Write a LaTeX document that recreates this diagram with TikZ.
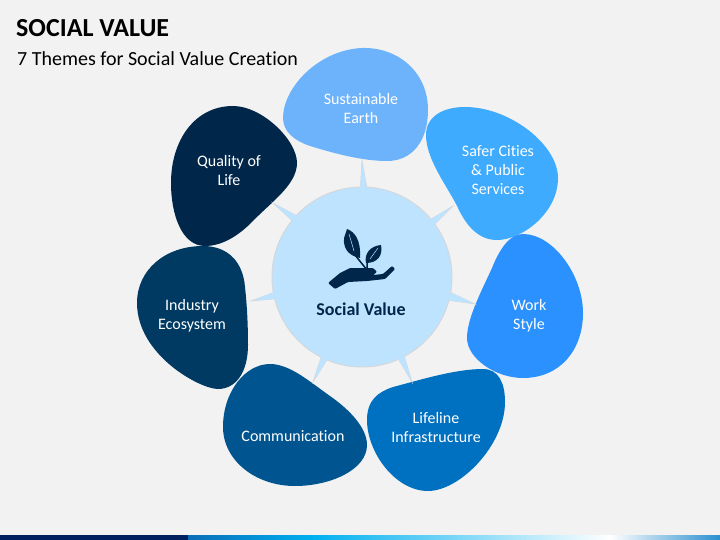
\documentclass[tikz,border=0pt]{standalone}
\usepackage{fontspec}
\setmainfont[RawFeature=-liga]{Carlito}
\usetikzlibrary{calc}
\definecolor{pagegray}{HTML}{F2F2F2}
\definecolor{hubblue}{HTML}{BDE3FF}
\definecolor{rimgray}{HTML}{D4D8DB}
\definecolor{inkblue}{HTML}{002649}
\definecolor{earthblue}{HTML}{6DB3FB}
\definecolor{citiesblue}{HTML}{3FABFF}
\definecolor{workblue}{HTML}{2B91FF}
\definecolor{lifelineblue}{HTML}{0070C0}
\definecolor{commblue}{HTML}{005590}
\definecolor{industryblue}{HTML}{003A63}
\definecolor{barnavy}{HTML}{002060}
\definecolor{barblue}{HTML}{0A6CB8}
\definecolor{barcyan}{HTML}{00B0F0}
\definecolor{barend}{HTML}{2A8FD0}
\tikzset{
  theme/.style={text=white,align=center,font=\fontsize{16}{19}\selectfont},
  hub/.style={circle,minimum size=180pt,inner sep=0pt,fill=hubblue,draw=rimgray,line width=1pt},
}
\begin{document}
\begin{tikzpicture}[x=1pt,y=-1pt]
\useasboundingbox (0,0) rectangle (720,540);
\fill[pagegray] (0,0) rectangle (720,540);
% bar at the bottom
\fill[barnavy] (0,535) rectangle (188,540);
\shade[left color=barblue,right color=barcyan] (188,535) rectangle (312,540);
\shade[left color=barcyan,right color=white] (312,535) rectangle (610,540);
\shade[left color=white,right color=barend] (610,535) rectangle (720,540);
% title
\node[anchor=base west,inner sep=0pt,font=\bfseries\fontsize{26}{28}\selectfont] (title) at (16,37) {SOCIAL VALUE};
\node[anchor=base west,inner sep=0pt,font=\fontsize{20}{24}\selectfont] (subtitle) at (17,66) {7 Themes for Social Value Creation};
% petals
\fill[earthblue] (283,118) .. controls (283,88) and (318,50) .. (362,48) .. controls (398,47) and (428,72) .. (428,110) .. controls (428,140) and (413,161) .. (387,161) .. controls (360,161) and (330,152) .. (310,146) .. controls (295,141) and (283,132) .. (283,118) -- cycle;
\fill[citiesblue] (426,135) .. controls (426,117) and (442,107) .. (465,107) .. controls (510,107) and (558,145) .. (558,178) .. controls (558,213) and (522,240) .. (497,240) .. controls (478,240) and (466,225) .. (458,208) .. controls (448,187) and (426,160) .. (426,135) -- cycle;
\fill[workblue] (467,338) .. controls (467,318) and (482,290) .. (492,268) .. controls (500,248) and (510,234) .. (523,234) .. controls (553,234) and (583,275) .. (583,313) .. controls (583,350) and (560,378) .. (523,378) .. controls (495,378) and (467,358) .. (467,338) -- cycle;
\fill[lifelineblue] (367,420) .. controls (367,400) and (378,392) .. (393,387) .. controls (420,380) and (455,369) .. (483,369) .. controls (498,369) and (505,382) .. (505,402) .. controls (505,445) and (460,491) .. (428,491) .. controls (395,491) and (367,452) .. (367,420) -- cycle;
\fill[commblue] (223,427) .. controls (223,392) and (245,364) .. (270,364) .. controls (290,364) and (310,382) .. (330,396) .. controls (350,410) and (367,428) .. (367,445) .. controls (367,470) and (330,486) .. (295,486) .. controls (255,486) and (223,460) .. (223,427) -- cycle;
\fill[industryblue] (137,303) .. controls (137,270) and (165,246) .. (203,246) .. controls (228,246) and (243,262) .. (245,287) .. controls (247,305) and (248,325) .. (248,345) .. controls (248,372) and (236,389) .. (218,389) .. controls (200,389) and (137,355) .. (137,303) -- cycle;
\fill[inkblue] (171,183) .. controls (171,140) and (195,106) .. (233,106) .. controls (262,106) and (297,140) .. (297,163) .. controls (297,185) and (270,203) .. (252,222) .. controls (238,236) and (222,246) .. (205,246) .. controls (182,246) and (171,215) .. (171,183) -- cycle;
% petal texts
\node[theme] (earth) at (361,109) {Sustainable\\Earth};
\node[theme] (cities) at (498,170) {Safer Cities\\\& Public\\Services};
\node[theme] (work) at (529,315.5) {Work\\Style};
\node[theme] (lifeline) at (436,428) {Lifeline\\Infrastructure};
\node[theme] (comm) at (293,436) {Communication};
\node[theme] (industry) at (192,315.5) {Industry\\Ecosystem};
\node[theme] (quality) at (229,171) {Quality of\\Life};
% centre and its spikes
\node[hub] (centre) at (362,277) {};
\coordinate (tipa) at (362,160);
\coordinate (tipb) at (453,206);
\coordinate (tipc) at (475,304);
\coordinate (tipd) at (412,382);
\coordinate (tipe) at (313,382);
\coordinate (tipf) at (251,301);
\coordinate (tipg) at (273,203);
\foreach \tipname/\anga/\angb in {tipa/91.5/87.5,tipb/40/36,tipc/-10/-15.5,tipd/-62/-66,tipe/-113/-117,tipf/190/194,tipg/137/141}{
  \fill[hubblue] (centre.\anga) -- (\tipname) -- (centre.\angb) -- (centre.center) -- cycle;
  \draw[rimgray,line width=0.6pt] (centre.\anga) -- (\tipname) -- (centre.\angb);
  \fill[hubblue] ($(centre.\anga)!0.12!(\tipname)$) -- ($(centre.\anga)!0.9!(\tipname)$) -- ($(centre.\angb)!0.12!(\tipname)$) -- (centre.center) -- cycle;
}
% icon
\fill[inkblue] (347,229) .. controls (355,232) and (361,240) .. (360,258) .. controls (350,256) and (343,250) .. (344,238) -- cycle;
\fill[inkblue] (381,245) .. controls (383,255) and (378,263) .. (366,263) .. controls (364,254) and (370,246) .. (381,245) -- cycle;
\draw[inkblue,line width=1.5pt] (355,255) -- (367,270) (367,260) -- (367,270);
\draw[hubblue,line width=0.5pt] (349,234) -- (354,251) (378,248) -- (370,259);
\fill[inkblue,rounded corners=1pt] (328,283) -- (340,273) -- (350,268) -- (373,268) -- (377,272) -- (373,275) -- (383,274) -- (392,266) -- (395,269) -- (385,279) -- (367,281) -- (348,282) -- (335,289) -- cycle;
\node[text=inkblue,font=\bfseries\fontsize{18}{19}\selectfont] (social) at (361,309) {Social Value};
\end{tikzpicture}
\end{document}
